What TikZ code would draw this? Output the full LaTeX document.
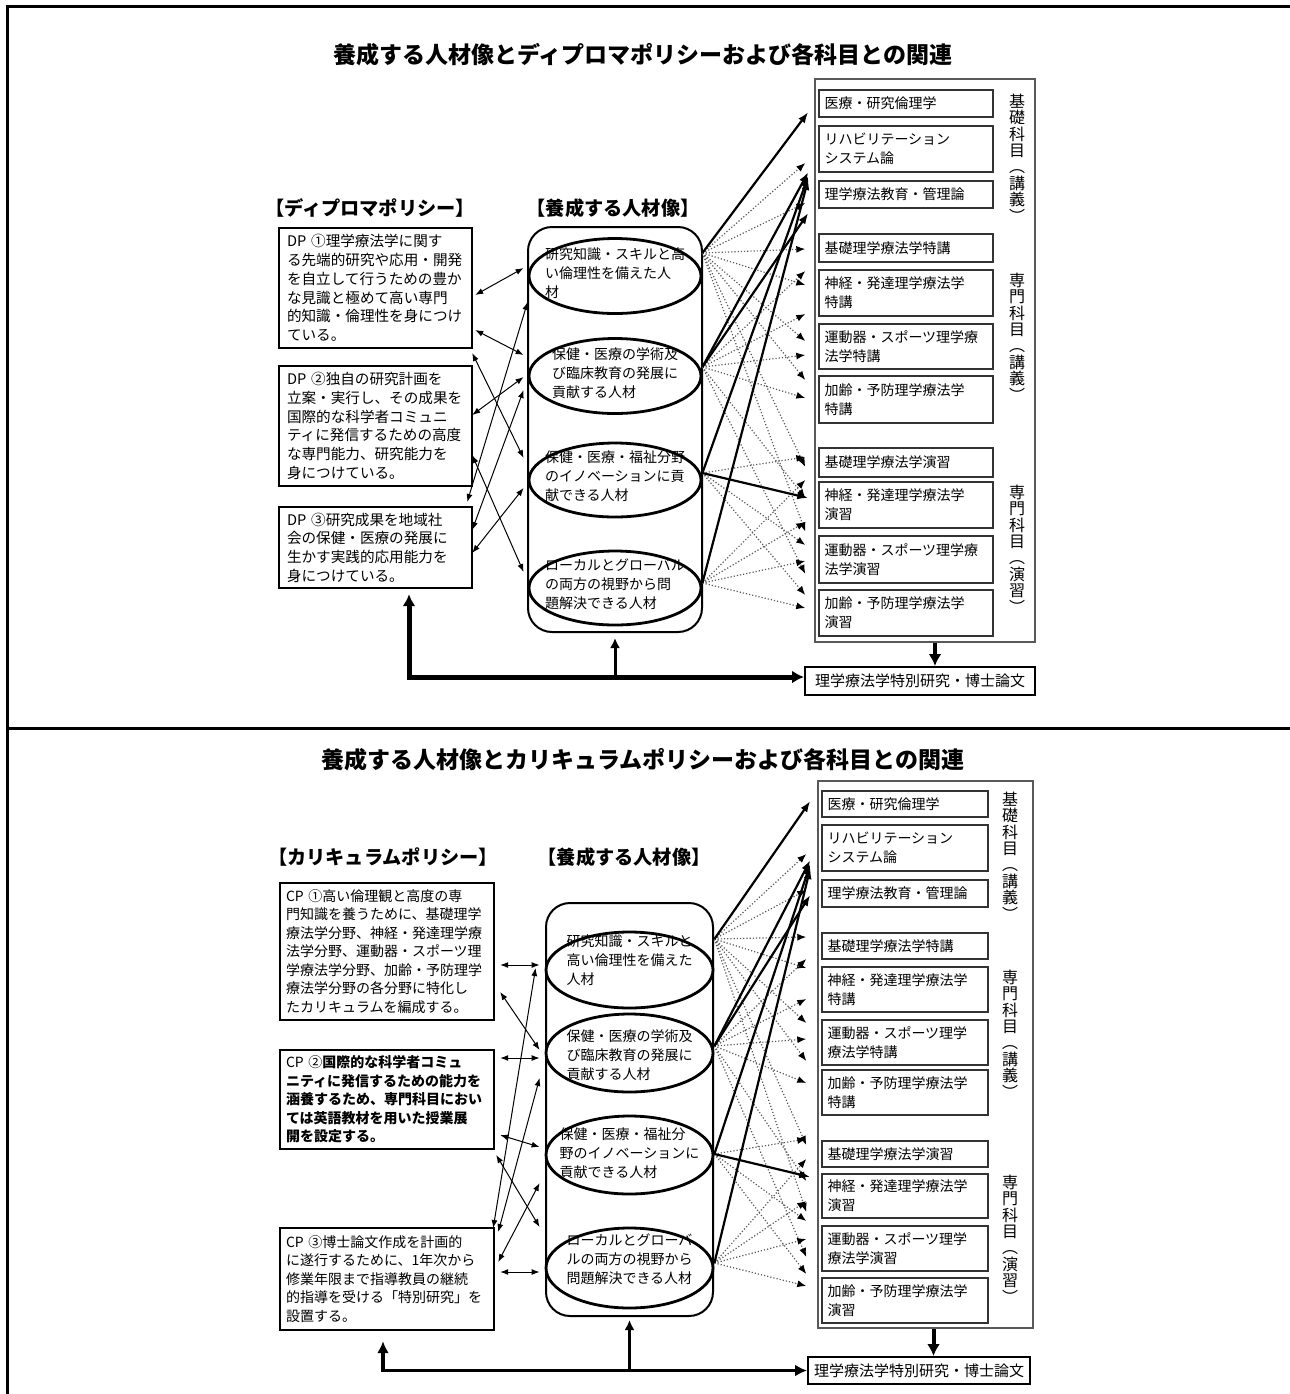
\documentclass[tikz,border=0pt]{standalone}
\usepackage{fontspec}
\setmainfont{Noto Sans CJK JP}
\usetikzlibrary{arrows.meta,calc,shapes.geometric}

\tikzset{
  title/.style={font=\fontsize{11.5pt}{13pt}\selectfont\bfseries},
  heading/.style={font=\fontsize{9.6pt}{11pt}\selectfont\bfseries},
  policy/.style={draw, line width=1.2pt, align=left, inner ysep=0pt},
  dptext/.style={inner xsep=4pt, text width=88.5pt, font=\fontsize{7.3pt}{9.35pt}\selectfont},
  cptext/.style={inner xsep=3pt, text width=101pt, font=\fontsize{7pt}{9.25pt}\selectfont},
  hrframe/.style={draw, line width=1pt, rounded corners=12pt, inner sep=0pt},
  person/.style={ellipse, draw, line width=1.4pt, inner sep=0pt},
  persontext/.style={align=left, inner sep=0pt, font=\fontsize{7pt}{9.5pt}\selectfont},
  courses/.style={draw=black!65, line width=0.6pt, inner sep=0pt},
  course/.style={draw=black!80, line width=0.7pt, align=left, inner xsep=2.75pt, inner ysep=0pt, font=\fontsize{7pt}{9.5pt}\selectfont},
  group/.style={align=center, inner sep=0pt, font=\fontsize{8pt}{8.2pt}\selectfont},
  thesis/.style={draw, line width=1pt, inner sep=0pt, font=\fontsize{7.5pt}{9pt}\selectfont},
  link/.style={line width=0.5pt, {Latex[length=4pt,width=3pt]}-{Latex[length=4pt,width=3pt]}},
  mainlink/.style={line width=1.1pt, -{Latex[length=5.5pt,width=4pt]}},
  sublink/.style={draw=black!65, line width=0.6pt, densely dotted, -{Latex[length=4.5pt,width=3.5pt,color=black]}},
  flow/.style={line width=2.5pt, -{Latex[length=6pt,width=6.5pt]}},
  upflow/.style={line width=1.5pt, -{Latex[length=5pt,width=5pt]}},
}

\begin{document}
\begin{tikzpicture}[x=0.5pt, y=-0.5pt]
\useasboundingbox (0,0) rectangle (1290,1394);
% page frame
\draw[line width=1.5pt] (1290,6) -- (7,6) -- (7,1394);
\draw[line width=1.5pt] (7,728) -- (1290,728);

% ===== upper diagram =====
\node[title] (t1) at (643,55) {養成する人材像とディプロマポリシーおよび各科目との関連};
\node[heading] (h1) at (370,208) {【ディプロマポリシー】};
\node[heading] (h2) at (613,208) {【養成する人材像】};

\node[policy, dptext, minimum height=60pt] (dp1) at (375.5,288) {DP~①理学療法学に関す\\る先端的研究や応用・開発\\を自立して行うための豊か\\な見識と極めて高い専門\\的知識・倫理性を身につけ\\ている。};
\node[policy, dptext, minimum height=60pt] (dp2) at (375.5,426) {DP~②独自の研究計画を\\立案・実行し、その成果を\\国際的な科学者コミュニ\\ティに発信するための高度\\な専門能力、研究能力を\\身につけている。};
\node[policy, dptext, minimum height=40.5pt] (dp3) at (375.5,547.5) {DP~③研究成果を地域社\\会の保健・医療の発展に\\生かす実践的応用能力を\\身につけている。};

\node[hrframe, minimum width=87pt, minimum height=202.5pt] (hrbox1) at (615,429.5) {};
\node[person, minimum width=86pt, minimum height=37.5pt, label={[persontext,yshift=1.5pt]center:{研究知識・スキルと高\\い倫理性を備えた人\\材}}] (hr1) at (615,276) {};
\node[person, minimum width=86pt, minimum height=37.5pt, label={[persontext,yshift=1.5pt]center:{保健・医療の学術及\\び臨床教育の発展に\\貢献する人材}}] (hr2) at (615,376) {};
\node[person, minimum width=86pt, minimum height=37pt, label={[persontext,yshift=2pt]center:{保健・医療・福祉分野\\のイノベーションに貢\\献できる人材}}] (hr3) at (615,480) {};
\node[person, minimum width=86pt, minimum height=37pt, label={[persontext,yshift=2pt]center:{ローカルとグローバル\\の両方の視野から問\\題解決できる人材}}] (hr4) at (615,588) {};

\node[courses, minimum width=110pt, minimum height=281.5pt] (courses1) at (925,360.5) {};
\foreach \i/\y/\h/\txt in {1/103.5/27/{医療・研究倫理学}, 2/149/46/{リハビリテーション\\システム論},
    3/194.5/27/{理学療法教育・管理論}, 4/248/28/{基礎理学療法学特講},
    5/293/46/{神経・発達理学療法学\\特講}, 6/346.5/45/{運動器・スポーツ理学療\\法学特講},
    7/399.5/47/{加齢・予防理学療法学\\特講}, 8/462.5/29/{基礎理学療法学演習},
    9/505/46/{神経・発達理学療法学\\演習}, 10/559.5/47/{運動器・スポーツ理学療\\法学演習},
    11/613/46/{加齢・予防理学療法学\\演習}}
  \node[course, text width=81.5pt, minimum height=\h*0.5pt] (sa\i) at (906,\y) {\txt};
\node[group] (ga1) at (1017,158) {基\\礎\\科\\目\\︵\\講\\義\\︶};
\node[group] (ga2) at (1017,337) {専\\門\\科\\目\\︵\\講\\義\\︶};
\node[group] (ga3) at (1017,549) {専\\門\\科\\目\\︵\\演\\習\\︶};

\node[thesis, minimum width=115pt, minimum height=14pt] (thesis1) at (920,681) {理学療法学特別研究・博士論文};

% policy <-> graduate image
\draw[link] ($(dp1.east)+(2,7)$) -- ($(hr1.west)+(-4,-8)$);
\draw[link] ($(dp1.east)+(2,42)$) -- ($(hr2.west)+(-4,-21)$);
\draw[link] ($(dp1.east)+(-1,65)$) -- ($(hr3.west)+(-4,-22)$);
\draw[link] ($(dp2.east)+(-1,-11)$) -- ($(hr2.west)+(-4,1)$);
\draw[link] ($(dp2.east)+(-1,29)$) -- ($(hr4.west)+(-4,-16)$);
\draw[link] ($(dp3.east)+(-6,-45.5)$) -- ($(hr1.west)+(0,26)$);
\draw[link] ($(dp3.east)+(-1,-17.5)$) -- ($(hr2.west)+(-4,14)$);
\draw[link] ($(dp3.east)+(-1,5.5)$) -- ($(hr3.west)+(-4,8)$);

% graduate image -> subjects
\coordinate (o1) at ($(hr1.east)+(0,-23)$);
\coordinate (o2) at ($(hr2.east)+(0,-9)$);
\coordinate (o3) at ($(hr3.east)+(0,-7)$);
\coordinate (o4) at ($(hr4.east)+(0,-5)$);
\foreach \s/\t/\d in {1/2/14, 1/3/8.5, 1/4/1, 1/5/-8, 1/6/-5.5, 1/7/-19.5, 1/8/4.5, 1/10/-28,
    2/4/23, 2/5/21, 2/6/8.5, 2/7/-1.5, 2/9/-7, 2/10/14.5,
    3/8/-5.5, 3/10/-14.5, 3/11/-18,
    4/8/17.5, 4/9/17, 4/10/1.5, 4/11/-5}
  \draw[sublink] (o\s) -- ($(sa\t.west)+(-13,\d)$);
\foreach \s/\t/\d in {1/1/8.5, 2/2/23, 3/2/27, 4/2/30, 2/3/18.5, 3/9/-7}
  \draw[mainlink] (o\s) -- ($(sa\t.west)+(-10,\d)$);

% research / thesis
\coordinate (c1) at (409,677);
\draw[flow, {Latex[length=6pt,width=6.5pt]}-{Latex[length=6pt,width=6.5pt]}] ($(dp3.south -| c1)+(0,5)$) -- (c1) -- (c1 -| thesis1.west);
\draw[upflow] (c1 -| hrbox1.south) -- ($(hrbox1.south)+(0,5)$);
\draw[flow, line width=2pt] ($(courses1.south)+(10,0)$) coordinate (d1) -- (d1 |- thesis1.north);

% ===== lower diagram =====
\node[title] (t2) at (643,760) {養成する人材像とカリキュラムポリシーおよび各科目との関連};
\node[heading] (h3) at (383,857) {【カリキュラムポリシー】};
\node[heading] (h4) at (624,857) {【養成する人材像】};

\node[policy, cptext, minimum height=68.5pt] (cp1) at (387,951.5) {CP~①高い倫理観と高度の専\\門知識を養うために、基礎理学\\療法学分野、神経・発達理学療\\法学分野、運動器・スポーツ理\\学療法学分野、加齢・予防理学\\療法学分野の各分野に特化し\\たカリキュラムを編成する。};
\node[policy, cptext, minimum height=49.5pt] (cp2) at (387,1099.5) {CP~②{\bfseries 国際的な科学者コミュ}\\{\bfseries ニティに発信するための能力を}\\{\bfseries 涵養するため、専門科目におい}\\{\bfseries ては英語教材を用いた授業展}\\{\bfseries 開を設定する。}};
\node[policy, cptext, minimum height=51pt] (cp3) at (387,1279) {CP~③博士論文作成を計画的\\に遂行するために、1年次から\\修業年限まで指導教員の継続\\的指導を受ける「特別研究」を\\設置する。};

\node[hrframe, minimum width=83.5pt, minimum height=206.5pt] (hrbox2) at (629.5,1109.5) {};
\node[person, minimum width=83.5pt, minimum height=38pt, label={[persontext,yshift=5pt]center:{研究知識・スキルと\\高い倫理性を備えた\\人材}}] (hb1) at (629.5,970) {};
\node[person, minimum width=83.5pt, minimum height=39pt, label={[persontext,yshift=-1pt]center:{保健・医療の学術及\\び臨床教育の発展に\\貢献する人材}}] (hb2) at (629.5,1053) {};
\node[person, minimum width=83.5pt, minimum height=39pt, label={[persontext,yshift=1pt]center:{保健・医療・福祉分\\野のイノベーションに\\貢献できる人材}}] (hb3) at (629.5,1155) {};
\node[person, minimum width=83.5pt, minimum height=40pt, label={[persontext,yshift=4.5pt]center:{ローカルとグローバ\\ルの両方の視野から\\問題解決できる人材}}] (hb4) at (629.5,1268) {};

\node[courses, minimum width=107.5pt, minimum height=273.5pt] (courses2) at (925.5,1054.5) {};
\foreach \i/\y/\h/\txt in {1/804/26/{医療・研究倫理学}, 2/848/46/{リハビリテーション\\システム論},
    3/893.5/27/{理学療法教育・管理論}, 4/946/26/{基礎理学療法学特講},
    5/989.5/45/{神経・発達理学療法学\\特講}, 6/1042.5/45/{運動器・スポーツ理学\\療法学特講},
    7/1092.5/45/{加齢・予防理学療法学\\特講}, 8/1154/26/{基礎理学療法学演習},
    9/1196/44/{神経・発達理学療法学\\演習}, 10/1248.5/45/{運動器・スポーツ理学\\療法学演習},
    11/1300.5/45/{加齢・予防理学療法学\\演習}}
  \node[course, text width=77.5pt, minimum height=\h*0.5pt] (sb\i) at (905,\y) {\txt};
\node[group] (gb1) at (1010,856) {基\\礎\\科\\目\\︵\\講\\義\\︶};
\node[group] (gb2) at (1010,1034) {専\\門\\科\\目\\︵\\講\\義\\︶};
\node[group] (gb3) at (1010,1239) {専\\門\\科\\目\\︵\\演\\習\\︶};

\node[thesis, minimum width=111pt, minimum height=13.5pt] (thesis2) at (919,1370.5) {理学療法学特別研究・博士論文};

% policy <-> graduate image
\draw[link] ($(cp1.east)+(5,13.5)$) -- ($(hb1.west)+(-5,-5)$);
\draw[link] ($(cp1.east)+(5,40.5)$) -- ($(hb2.west)+(-5,-3)$);
\draw[link] ($(cp2.east)+(5,-41.5)$) -- ($(hb2.west)+(-5,5)$);
\draw[link] ($(cp2.east)+(5,35.5)$) -- ($(hb3.west)+(-5,-8)$);
\draw[link] ($(cp2.east)+(1,55.5)$) -- ($(hb4.west)+(-5,-41)$);
\draw[link] ($(cp3.east)+(5,-7)$) -- ($(hb4.west)+(-5,4)$);
\draw[link] ($(cp3.east)+(-2,-51)$) -- ($(hb1.west)+(-9,-2)$);
\draw[link] ($(cp3.east)+(3,-47)$) -- ($(hb2.west)+(-5,25)$);
\draw[link] ($(cp3.east)+(3,-17)$) -- ($(hb3.west)+(-5,28)$);

% graduate image -> subjects
\coordinate (p1) at ($(hb1.east)+(0,-31)$);
\coordinate (p2) at ($(hb2.east)+(0,-7)$);
\coordinate (p3) at ($(hb3.east)+(0,-1)$);
\coordinate (p4) at ($(hb4.east)+(0,-5)$);
\foreach \s/\t/\d in {1/2/6, 1/3/-3.5, 1/4/-9, 1/5/-21.5, 1/6/-19.5, 1/7/-31.5, 1/8/-9, 1/10/-36.5,
    2/4/13, 2/5/9.5, 2/6/-3.5, 2/7/-9.5, 2/9/-15, 2/10/8.5,
    3/8/-15, 3/10/-27.5, 3/11/-26.5,
    4/8/5, 4/9/5, 4/10/-9.5, 4/11/-14.5}
  \draw[sublink] (p\s) -- ($(sb\t.west)+(-15,\d)$);
\foreach \s/\t/\d in {1/1/-3, 2/2/12, 3/2/16, 4/2/20, 2/3/1.5, 3/9/-19}
  \draw[mainlink] (p\s) -- ($(sb\t.west)+(-11,\d)$);

% research / thesis
\coordinate (c2) at (383,1370.5);
\draw[flow, line width=1.8pt, {Latex[length=6pt,width=6pt]}-{Latex[length=6pt,width=6pt]}] ($(cp3.south -| c2)+(0,10)$) -- (c2) -- (c2 -| thesis2.west);
\draw[upflow] (c2 -| hrbox2.south) -- ($(hrbox2.south)+(0,3)$);
\draw[flow, line width=2pt] ($(courses2.south)+(8,0)$) coordinate (d2) -- (d2 |- thesis2.north);
\end{tikzpicture}
\end{document}
